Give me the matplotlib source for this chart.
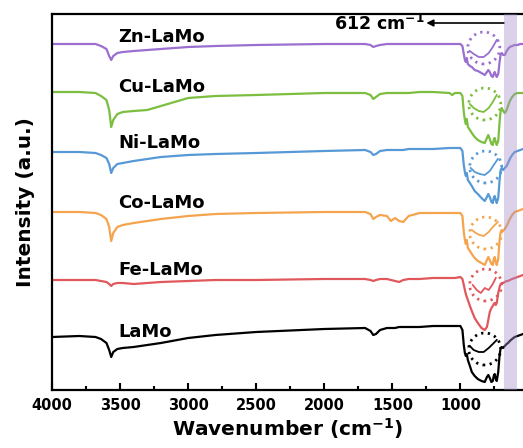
import matplotlib
matplotlib.use('Agg')
import matplotlib.pyplot as plt
from matplotlib.patches import Ellipse
from matplotlib.ticker import MultipleLocator

# Wavenumber grid (cm-1) shared by every spectrum
wavenumber = [4000, 3800, 3680, 3640, 3600, 3580, 3565, 3550, 3520, 3480,
              3400, 3300, 3200, 3000, 2800, 2500, 2000, 1700, 1660, 1640,
              1620, 1590, 1540, 1510, 1480, 1450, 1420, 1380, 1300, 1200,
              1080, 1060, 1040, 1000, 985, 975, 967, 960, 953, 945,
              930, 916, 895, 872, 845, 821, 805, 795, 784, 772,
              762, 755, 748, 740, 733, 722, 712, 704, 696, 686,
              674, 660, 650, 637, 620, 601, 580, 560, 540]

# Stacked intensities (a.u.)
zn_lamo = [346, 346, 346, 344, 341, 334, 330, 334, 337, 338,
           339, 340, 341, 343, 344, 345, 346, 346, 345, 343,
           344, 345, 346, 346, 346, 346, 346, 346, 346, 346,
           346, 346, 346, 346, 344, 336, 330, 328, 332, 326,
           324, 323, 320, 319, 317, 315, 318, 320, 318, 314,
           313, 316, 318, 315, 313, 316, 328, 336, 337, 335,
           335, 339, 341, 343, 344, 345, 345, 346, 346]
cu_lamo = [298, 298, 297, 294, 290, 280, 263, 270, 276, 278,
           279, 280, 284, 292, 294, 295, 297, 297, 295, 291,
           293, 296, 297, 297, 297, 297, 297, 297, 298, 298,
           297, 295, 297, 297, 294, 278, 270, 266, 271, 263,
           260, 257, 253, 250, 248, 247, 252, 255, 251, 246,
           245, 250, 252, 248, 245, 249, 268, 280, 282, 279,
           277, 280, 284, 289, 293, 296, 297, 297, 297]
ni_lamo = [238, 238, 237, 235, 232, 226, 217, 222, 226, 227,
           229, 231, 233, 235, 236, 237, 239, 240, 238, 235,
           236, 239, 240, 240, 240, 240, 240, 241, 241, 241,
           242, 242, 242, 242, 239, 225, 218, 214, 217, 210,
           207, 204, 199, 196, 192, 189, 193, 196, 193, 188,
           187, 192, 194, 190, 187, 192, 210, 220, 222, 220,
           222, 224, 227, 231, 235, 238, 239, 240, 241]
co_lamo = [178, 178, 177, 175, 171, 163, 149, 157, 163, 165,
           167, 169, 171, 174, 176, 177, 178, 178, 176, 171,
           173, 175, 174, 169, 172, 169, 168, 174, 177, 177,
           177, 177, 177, 177, 174, 158, 150, 146, 150, 142,
           139, 136, 132, 129, 127, 125, 130, 133, 130, 126,
           125, 131, 133, 128, 125, 131, 150, 158, 160, 159,
           161, 164, 167, 171, 175, 178, 179, 180, 181]
fe_lamo = [110, 110, 110, 109, 108, 106, 104, 106, 107, 107,
           106, 107, 108, 109, 110, 110, 111, 111, 110, 109,
           110, 111, 111, 110, 109, 108, 110, 111, 111, 112,
           112, 112, 112, 113, 111, 105, 100, 96, 93, 90,
           84, 79, 72, 67, 62, 60, 63, 70, 78, 82,
           84, 86, 87, 85, 87, 97, 103, 106, 107, 107,
           108, 109, 109, 110, 111, 112, 113, 114, 115]
lamo = [53, 54, 53, 51, 47, 40, 33, 38, 41, 42,
        43, 45, 47, 52, 55, 58, 61, 62, 59, 55,
        56, 60, 62, 62, 62, 63, 63, 63, 63, 64,
        64, 64, 64, 64, 60, 45, 37, 34, 36, 30,
        24, 18, 14, 11, 9, 8, 13, 15, 12, 8,
        9, 14, 16, 11, 9, 18, 35, 42, 43, 42,
        44, 46, 47, 49, 51, 53, 54, 55, 56]

# Small highlighted band inside the dotted circles
detail_wn = [[931, 902, 865, 829, 792, 762, 733],
             [931, 902, 865, 829, 792, 762, 733],
             [924, 894, 858, 821, 784, 755, 725],
             [916, 887, 858, 829, 792, 762, 725],
             [909, 880, 850, 821, 792, 762, 740],
             [931, 902, 865, 829, 792, 762, 733]]
detail_int = [[339, 336, 333, 333, 337, 343, 350],
              [286, 282, 279, 278, 282, 288, 295],
              [222, 218, 216, 215, 219, 225, 231],
              [160, 157, 155, 154, 158, 163, 168],
              [105, 100, 97, 102, 100, 106, 112],
              [44, 40, 38, 38, 42, 46, 50]]
circle_center = [(828, 342), (821, 286), (814, 223), (814, 157), (814, 105), (821, 41)]

names = ['Zn-LaMo', 'Cu-LaMo', 'Ni-LaMo', 'Co-LaMo', 'Fe-LaMo', 'LaMo']
series = [zn_lamo, cu_lamo, ni_lamo, co_lamo, fe_lamo, lamo]
colors = ['#9B6FCF', '#7CBE3F', '#5699D6', '#F5A44E', '#E0585C', '#000000']
label_y = [348, 298, 242, 182, 115, 53]

plt.rcParams['font.family'] = 'DejaVu Sans'
plt.rcParams['font.weight'] = 'bold'

fig = plt.figure(figsize=(5.23, 4.48), dpi=100)
ax = fig.add_axes([52 / 523, 58 / 448, 471 / 523, 376 / 448])

for name, y, c, ly, dw, di, cc in zip(names, series, colors, label_y,
                                        detail_wn, detail_int, circle_center):
    ax.plot(wavenumber, y, color=c, lw=1.6, zorder=2)
    ax.plot(dw, di, color=c, lw=1.3, zorder=2)
    ax.add_patch(Ellipse(cc, 235, 32, fill=False, edgecolor=c, lw=2,
                         linestyle=(0, (0.8, 1.6)), zorder=2))
    ax.text(3515, ly, name, fontsize=13, fontweight='bold', ha='left', va='baseline')

# Shaded band around 612 cm-1
ax.axvspan(586, 681, color='#A58FCB', alpha=0.4, lw=0, zorder=3)
ax.annotate('', xy=(1250, 367), xytext=(681, 367),
            arrowprops=dict(arrowstyle='-|>', color='black', lw=1.2,
                            mutation_scale=10, shrinkA=0, shrinkB=0))
ax.text(1262, 366, '612 cm$^{-1}$', fontsize=12.5, fontweight='bold',
        ha='right', va='center')

ax.set_xlim(4000, 540)
ax.set_ylim(0, 376)
ax.set_yticks([])
ax.xaxis.set_major_locator(MultipleLocator(500))
ax.xaxis.set_minor_locator(MultipleLocator(250))
ax.tick_params(axis='x', which='major', direction='in', length=5, width=1.5,
               labelsize=10.5, pad=6)
ax.tick_params(axis='x', which='minor', direction='in', length=3, width=1.5)
for lab in ax.get_xticklabels():
    lab.set_fontweight('bold')
for s in ['top', 'bottom', 'left']:
    ax.spines[s].set_linewidth(1.6)
ax.spines['right'].set_visible(False)

ax.set_xlabel('Wavenumber (cm$^{-1}$)', fontsize=14.5, fontweight='bold', labelpad=2)
ax.set_ylabel('Intensity (a.u.)', fontsize=14.5, fontweight='bold', labelpad=12)

fig.savefig('out.png', dpi=100)
